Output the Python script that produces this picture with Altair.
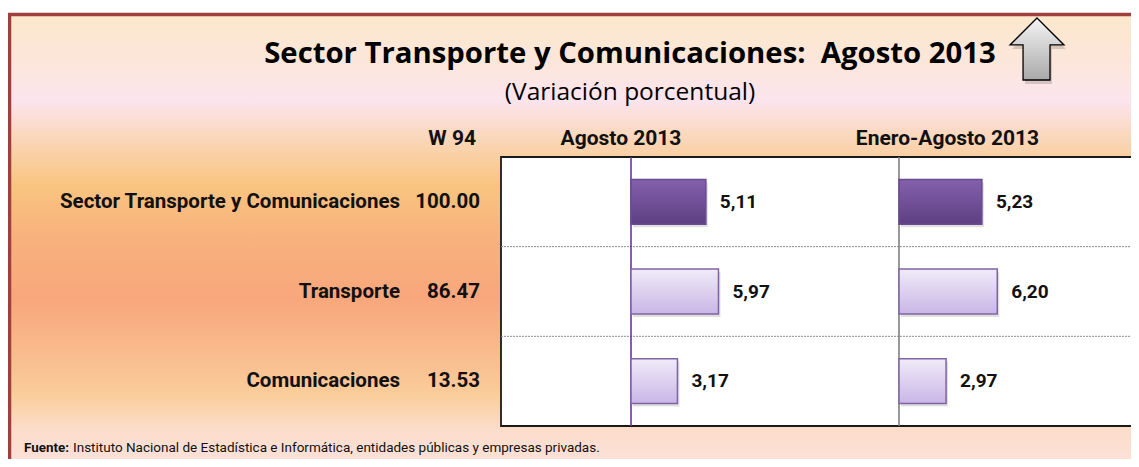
import altair as alt
import pandas as pd

# ---- data ----
categories = ["Sector Transporte y Comunicaciones", "Transporte", "Comunicaciones"]
weights = ["100.00", "86.47", "13.53"]
agosto = [5.11, 5.97, 3.17]
enero_agosto = [5.23, 6.20, 2.97]
header_labels = ["W 94", "Agosto 2013", "Enero-Agosto 2013"]
title_text = "Sector Transporte y Comunicaciones:\u00a0\u00a0Agosto 2013"
subtitle_text = "(Variación porcentual)"
source_bold = "Fuente:"
source_text = "Instituto Nacional de Estadística e Informática, entidades públicas y empresas privadas."

df = pd.DataFrame({
    "cat": categories,
    "w": weights,
    "ago": agosto,
    "ene": enero_agosto,
    "ago_lbl": [f"{v:.2f}".replace(".", ",") for v in agosto],
    "ene_lbl": [f"{v:.2f}".replace(".", ",") for v in enero_agosto],
    "first": [True, False, False],
})

W, H = 1123, 451
NARROW = "Roboto, Liberation Sans, sans-serif"
TITLE_FONT = "Open Sans, Noto Sans, sans-serif"

# geometry (chart coordinates)
BOX_X0, BOX_X1, BOX_Y0, BOX_Y1 = 493, 1128, 149, 418
ago_scale = alt.Scale(domain=[0, 10], range=[623, 769.5])
ene_scale = alt.Scale(domain=[0, 10], range=[891, 1049.5])
y_scale = alt.Scale(domain=categories, range=[BOX_Y0, BOX_Y1], paddingInner=0.5, paddingOuter=0.25)
Y = alt.Y("cat:N", sort=categories, scale=y_scale, axis=None)

one = pd.DataFrame({"z": [0]})

bg_grad = alt.Gradient(
    gradient="linear", x1=0, x2=0, y1=0, y2=1,
    stops=[
        alt.GradientStop(offset=0.0, color="#FBE8CC"),
        alt.GradientStop(offset=0.11, color="#FCE6DC"),
        alt.GradientStop(offset=0.185, color="#FCE4EE"),
        alt.GradientStop(offset=0.26, color="#FAD8BE"),
        alt.GradientStop(offset=0.37, color="#F9C47F"),
        alt.GradientStop(offset=0.49, color="#F8B07D"),
        alt.GradientStop(offset=0.615, color="#F8A77C"),
        alt.GradientStop(offset=0.725, color="#F9BA8C"),
        alt.GradientStop(offset=0.82, color="#FACD9A"),
        alt.GradientStop(offset=0.895, color="#FCDDCB"),
        alt.GradientStop(offset=1.0, color="#FDE3DF"),
    ],
)

background = alt.Chart(one).mark_rect(
    fill=bg_grad, stroke="#A0403E", strokeWidth=3.5
).encode(
    x=alt.value(1.5), x2=alt.value(1140), y=alt.value(6.5), y2=alt.value(470)
)

box = alt.Chart(one).mark_rect(
    fill="white", stroke="#1a1a1a", strokeWidth=1.8
).encode(
    x=alt.value(BOX_X0), x2=alt.value(BOX_X1), y=alt.value(BOX_Y0), y2=alt.value(BOX_Y1)
)

# separators between rows: end of band + half the gap
seps = alt.Chart(pd.DataFrame({"cat": categories[:2]})).mark_rule(
    color="#8c8c8c", strokeWidth=1, strokeDash=[2, 1], yOffset=22.4
).encode(
    x=alt.value(BOX_X0), x2=alt.value(BOX_X1),
    y=alt.Y("cat:N", sort=categories, scale=y_scale, axis=None, bandPosition=1),
)

zero_ago = alt.Chart(one).mark_rule(color="#7030A0", strokeWidth=1.6).encode(
    x=alt.X("z:Q", scale=ago_scale, axis=None), y=alt.value(BOX_Y0), y2=alt.value(BOX_Y1)
)
zero_ene = alt.Chart(one).mark_rule(color="#7F7F7F", strokeWidth=1.6).encode(
    x=alt.X("z:Q", scale=ene_scale, axis=None), y=alt.value(BOX_Y0), y2=alt.value(BOX_Y1)
)

dark_grad = alt.Gradient(
    gradient="linear", x1=0, x2=0, y1=0, y2=1,
    stops=[alt.GradientStop(offset=0, color="#8361AC"), alt.GradientStop(offset=1, color="#5E3F82")],
)
light_grad = alt.Gradient(
    gradient="linear", x1=0, x2=0, y1=0, y2=1,
    stops=[alt.GradientStop(offset=0, color="#F0EBF8"), alt.GradientStop(offset=1, color="#C9B6E6")],
)


def shadow(field, scale):
    return alt.Chart(df).mark_bar(
        fill="#000000", opacity=0.12, xOffset=2, yOffset=3
    ).encode(x=alt.X(f"{field}:Q", scale=scale, axis=None), y=Y)


def bars(field, scale, grad, first, stroke):
    return alt.Chart(df).transform_filter(
        alt.datum.first if first else ~alt.datum.first
    ).mark_bar(fill=grad, stroke=stroke, strokeWidth=1.5, cornerRadius=0).encode(
        x=alt.X(f"{field}:Q", scale=scale, axis=None), y=Y
    )


bar_layers = [
    shadow("ago", ago_scale),
    shadow("ene", ene_scale),
    bars("ago", ago_scale, dark_grad, True, "#6A4B91"),
    bars("ago", ago_scale, light_grad, False, "#8064A2"),
    bars("ene", ene_scale, dark_grad, True, "#6A4B91"),
    bars("ene", ene_scale, light_grad, False, "#8064A2"),
]

val_style = dict(align="left", baseline="middle", dx=14, font=NARROW, fontSize=19, fontWeight="bold", color="#111")
ago_lbl = alt.Chart(df).mark_text(**val_style).encode(
    x=alt.X("ago:Q", scale=ago_scale, axis=None), y=Y, text="ago_lbl:N"
)
ene_lbl = alt.Chart(df).mark_text(**val_style).encode(
    x=alt.X("ene:Q", scale=ene_scale, axis=None), y=Y, text="ene_lbl:N"
)

row_style = dict(align="right", baseline="middle", font=NARROW, fontSize=20.5, fontWeight="bold", color="#111")
row_lbl = alt.Chart(df).mark_text(**row_style).encode(x=alt.value(392), y=Y, text="cat:N")
w_lbl = alt.Chart(df).mark_text(**row_style).encode(x=alt.value(472), y=Y, text="w:N")

hdr_style = dict(baseline="alphabetic", font=NARROW, fontSize=21, fontWeight="bold", color="#111")
hdr_w = alt.Chart(one).mark_text(align="right", text=header_labels[0], **hdr_style).encode(
    x=alt.value(468), y=alt.value(137))
hdr_a = alt.Chart(one).mark_text(align="center", text=header_labels[1], **hdr_style).encode(
    x=alt.value(613), y=alt.value(137))
hdr_e = alt.Chart(one).mark_text(align="center", text=header_labels[2], **hdr_style).encode(
    x=alt.value(939.5), y=alt.value(137))

title = alt.Chart(one).mark_text(
    text=title_text, align="center", baseline="alphabetic", font=TITLE_FONT, fontSize=29.3,
    fontWeight="bold", color="#000"
).encode(x=alt.value(622), y=alt.value(55))
subtitle = alt.Chart(one).mark_text(
    text=subtitle_text, align="center", baseline="alphabetic", font=TITLE_FONT, fontSize=24.5,
    color="#000"
).encode(x=alt.value(622), y=alt.value(92))

src_b = alt.Chart(one).mark_text(
    text=source_bold, align="left", baseline="alphabetic", font=NARROW, fontSize=13.4,
    fontWeight="bold", color="#111"
).encode(x=alt.value(16), y=alt.value(444))
src_r = alt.Chart(one).mark_text(
    text=source_text, align="left", baseline="alphabetic", font=NARROW, fontSize=13.5,
    color="#111"
).encode(x=alt.value(65), y=alt.value(444))

arrow_grad = alt.Gradient(
    gradient="linear", x1=0, x2=0, y1=0, y2=1,
    stops=[alt.GradientStop(offset=0, color="#F4F4F4"), alt.GradientStop(offset=1, color="#A9A9A9")],
)
arrow_path = "M0,-1 L0.87,-0.13 L0.42,-0.13 L0.42,1 L-0.45,1 L-0.45,-0.13 L-0.87,-0.13 Z"
arrow_shadow = alt.Chart(one).mark_point(
    shape=arrow_path, size=3844, filled=True, fill="#000", opacity=0.15, strokeWidth=0
).encode(x=alt.value(1031), y=alt.value(45))
arrow = alt.Chart(one).mark_point(
    shape=arrow_path, size=3844, filled=True, fill=arrow_grad, stroke="#000",
    strokeWidth=1.3, opacity=1
).encode(x=alt.value(1029), y=alt.value(41))

chart = alt.layer(
    background, box, seps, zero_ago, zero_ene, *bar_layers, ago_lbl, ene_lbl,
    row_lbl, w_lbl, hdr_w, hdr_a, hdr_e, title, subtitle, src_b, src_r, arrow_shadow, arrow
).resolve_scale(x="independent").properties(
    width=W, height=H, autosize=alt.AutoSizeParams(type="none"), padding=0
).configure_view(stroke=None)

chart.save("out.html", embed_options={"renderer": "svg", "actions": False})
